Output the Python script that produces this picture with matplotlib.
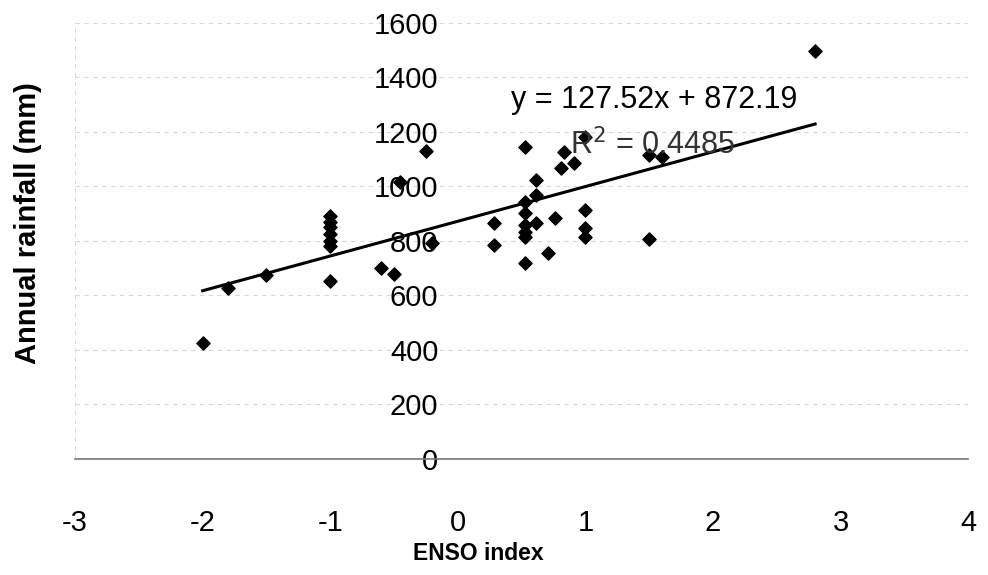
import matplotlib.pyplot as plt
import numpy as np

plt.rcParams['font.family'] = ['Liberation Sans', 'DejaVu Sans']

# ENSO index vs annual rainfall (mm)
enso = [-2.0, -1.8, -1.5,
        -1.0, -1.0, -1.0, -1.0, -1.0, -1.0, -1.0,
        -0.6, -0.5, -0.45, -0.25, -0.2,
        0.28, 0.28,
        0.53, 0.53, 0.53, 0.53, 0.53, 0.53, 0.53,
        0.61, 0.61, 0.61, 0.71, 0.76,
        0.81, 0.83, 0.91, 1.0,
        1.0, 1.0, 1.0,
        1.5, 1.5, 1.6, 2.8]
rain = [425, 627, 675,
        890, 870, 850, 825, 800, 780, 653,
        700, 680, 1016, 1130, 793,
        866, 785,
        1145, 943, 903, 859, 833, 815, 719,
        1024, 969, 866, 756, 884,
        1068, 1127, 1087, 1182,
        914, 848, 815,
        1116, 807, 1108, 1497]

slope = 127.52
intercept = 872.19
r2 = 0.4485

xticks = [-3, -2, -1, 0, 1, 2, 3, 4]
yticks = [0, 200, 400, 600, 800, 1000, 1200, 1400, 1600]

fig = plt.figure(figsize=(9.88, 5.75), dpi=100)
ax = fig.add_axes([0.076, 0.202, 0.904, 0.758])

# faint gridlines like the scanned original
for yv in yticks[1:]:
    ax.axhline(yv, color='#d8d8d8', lw=0.8, ls=(0, (4, 4)), zorder=0)
ax.axvline(-3, color='#d8d8d8', lw=0.8, ls=(0, (4, 4)), zorder=0)
ax.axvline(4, color='#e4e4e4', lw=0.8, ls=(0, (4, 4)), zorder=0)

ax.scatter(enso, rain, marker='D', s=45, color='black', zorder=3)

xl = np.array([min(enso), max(enso)])
ax.plot(xl, slope * xl + intercept, color='black', lw=2.2, zorder=2)

ax.text(0.42, 1318, f'y = {slope}x + {intercept}', fontsize=22,
        va='center', ha='left')
ax.text(0.88, 1152, f'R$^2$ = {r2}', fontsize=22, va='center', ha='left',
        color='#333333')

ax.set_xlim(-3, 4)
ax.set_ylim(0, 1600)
ax.set_xticks(xticks)
ax.set_yticks(yticks)
ax.set_xticklabels([str(v) for v in xticks])

for s in ['top', 'right']:
    ax.spines[s].set_visible(False)
ax.spines['left'].set_position(('data', 0))
ax.spines['left'].set_visible(False)
ax.spines['bottom'].set_color('#777777')
ax.spines['bottom'].set_linewidth(1.2)

ax.tick_params(axis='y', length=0, pad=14, labelsize=21)
ax.tick_params(axis='x', length=0, pad=36, labelsize=21)

ax.set_xlabel('ENSO index', fontsize=16.5, fontweight='bold')
ax.set_ylabel('Annual rainfall (mm)', fontsize=21, fontweight='bold')
ax.xaxis.set_label_coords(0.452, -0.19, transform=ax.transAxes)
ax.yaxis.set_label_coords(-0.037, 0.541, transform=ax.transAxes)

fig.savefig('out.png', dpi=100)
